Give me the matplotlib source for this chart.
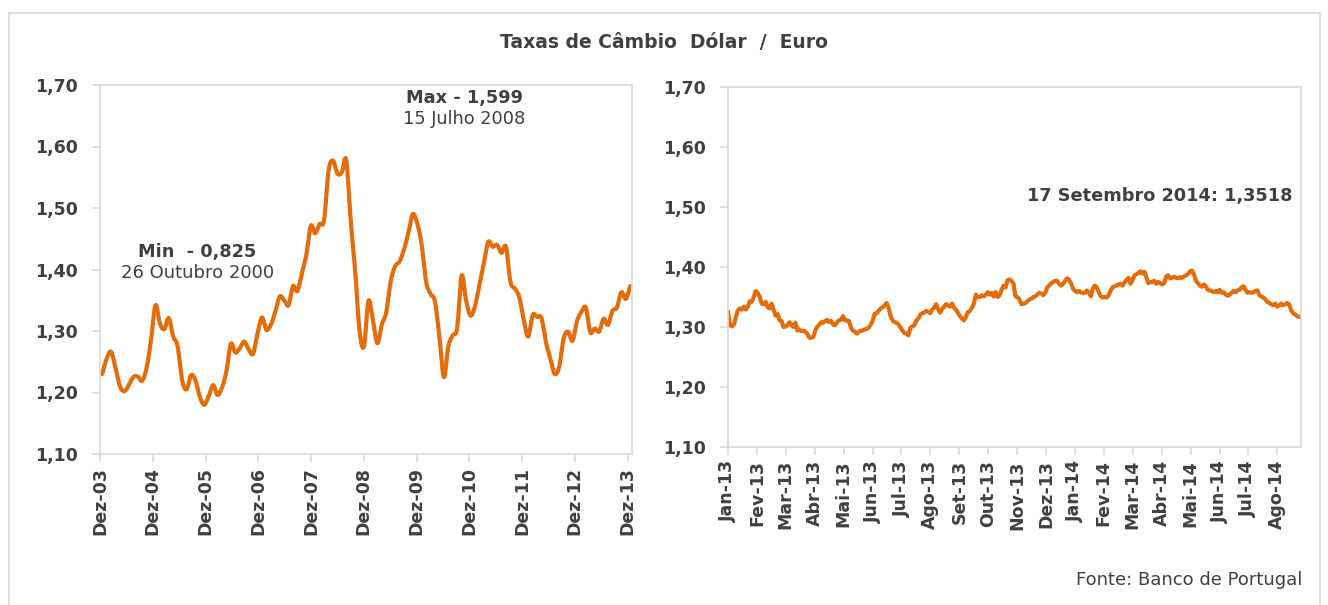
import numpy as np
import matplotlib
matplotlib.use("Agg")
import matplotlib.pyplot as plt
from matplotlib.patches import Rectangle
from matplotlib.ticker import FuncFormatter

# monthly rate, Dez-03 .. Nov-13
hist_values = [
    1.230, 1.255, 1.266, 1.240, 1.210, 1.202, 1.212, 1.225, 1.226, 1.219,
    1.240, 1.285, 1.342, 1.312, 1.303, 1.321, 1.291, 1.275, 1.220, 1.205,
    1.228, 1.220, 1.193, 1.180, 1.194, 1.212, 1.196, 1.208, 1.235, 1.279,
    1.265, 1.272, 1.283, 1.270, 1.263, 1.296, 1.322, 1.302, 1.310, 1.331,
    1.356, 1.350, 1.342, 1.373, 1.365, 1.394, 1.424, 1.471, 1.459, 1.474,
    1.480, 1.560, 1.577, 1.556, 1.558, 1.578, 1.480, 1.400, 1.300, 1.275,
    1.349, 1.318, 1.280, 1.310, 1.330, 1.380, 1.405, 1.413, 1.432, 1.460,
    1.490, 1.475, 1.440, 1.380, 1.360, 1.348, 1.290, 1.225, 1.275, 1.293,
    1.305, 1.390, 1.350, 1.325, 1.340, 1.375, 1.410, 1.445, 1.437, 1.440,
    1.427, 1.437, 1.380, 1.369, 1.355, 1.318, 1.291, 1.326, 1.323, 1.321,
    1.282, 1.255, 1.230, 1.242, 1.288, 1.299, 1.284, 1.316, 1.331, 1.338,
    1.298, 1.304, 1.299, 1.320, 1.310, 1.333, 1.338, 1.363, 1.352, 1.373,
]
hist_labels = ["Dez-03", "Dez-04", "Dez-05", "Dez-06", "Dez-07", "Dez-08",
               "Dez-09", "Dez-10", "Dez-11", "Dez-12", "Dez-13"]

# daily rate, Jan-13 .. 17 Set-14 (sampled evenly from the picture)
recent_values = [
    1.325, 1.303, 1.301, 1.304, 1.317, 1.328, 1.331, 1.329, 1.334, 1.329,
    1.334, 1.343, 1.342, 1.350, 1.360, 1.357, 1.350, 1.339, 1.338, 1.342,
    1.333, 1.331, 1.339, 1.329, 1.319, 1.322, 1.311, 1.310, 1.300, 1.301,
    1.303, 1.308, 1.303, 1.300, 1.307, 1.294, 1.296, 1.293, 1.294, 1.292,
    1.289, 1.282, 1.282, 1.283, 1.294, 1.300, 1.304, 1.308, 1.307, 1.310,
    1.312, 1.308, 1.310, 1.304, 1.303, 1.308, 1.311, 1.312, 1.318, 1.311,
    1.311, 1.310, 1.299, 1.294, 1.292, 1.289, 1.292, 1.294, 1.294, 1.296,
    1.297, 1.299, 1.304, 1.311, 1.322, 1.323, 1.327, 1.331, 1.333, 1.336,
    1.340, 1.332, 1.318, 1.311, 1.308, 1.307, 1.304, 1.299, 1.294, 1.290,
    1.289, 1.286, 1.299, 1.301, 1.303, 1.311, 1.314, 1.321, 1.323, 1.324,
    1.327, 1.325, 1.323, 1.329, 1.332, 1.338, 1.329, 1.324, 1.330, 1.334,
    1.338, 1.336, 1.334, 1.339, 1.332, 1.329, 1.323, 1.318, 1.314, 1.311,
    1.317, 1.325, 1.327, 1.332, 1.339, 1.354, 1.350, 1.350, 1.353, 1.351,
    1.354, 1.358, 1.354, 1.357, 1.351, 1.358, 1.350, 1.353, 1.362, 1.369,
    1.366, 1.378, 1.379, 1.377, 1.372, 1.351,
    1.350, 1.346, 1.338, 1.339, 1.340, 1.343, 1.346, 1.347, 1.350, 1.351,
    1.354, 1.357, 1.356, 1.353, 1.357, 1.366, 1.369, 1.373, 1.375, 1.377,
    1.377, 1.372, 1.369, 1.372, 1.377, 1.381, 1.379, 1.373, 1.364, 1.360,
    1.358, 1.360, 1.358, 1.356, 1.357, 1.361, 1.357, 1.351, 1.364, 1.369,
    1.366, 1.358, 1.351, 1.349, 1.350, 1.349, 1.353, 1.361, 1.366, 1.368,
    1.369, 1.371, 1.372, 1.369, 1.374, 1.379, 1.382, 1.372, 1.378, 1.386,
    1.388, 1.390, 1.393, 1.389, 1.392, 1.383, 1.373, 1.375, 1.375, 1.377,
    1.372, 1.375, 1.373, 1.371,
    1.373, 1.384, 1.386, 1.381, 1.382, 1.384, 1.382, 1.381, 1.383, 1.382,
    1.384, 1.386, 1.388, 1.393, 1.394, 1.388, 1.377, 1.373, 1.369, 1.367,
    1.371, 1.368, 1.362, 1.361, 1.360, 1.358, 1.360, 1.358, 1.362, 1.357,
    1.358, 1.354, 1.352, 1.354, 1.357, 1.360, 1.358, 1.361, 1.362, 1.366,
    1.368, 1.362, 1.357, 1.358, 1.357, 1.358, 1.360, 1.361, 1.353, 1.351,
    1.349, 1.346, 1.342, 1.340, 1.338, 1.336, 1.339, 1.334, 1.336, 1.339,
    1.336, 1.338, 1.340, 1.338, 1.328, 1.323, 1.321, 1.318, 1.317, 1.317,
]
recent_labels = ["Jan-13", "Fev-13", "Mar-13", "Abr-13", "Mai-13", "Jun-13",
                 "Jul-13", "Ago-13", "Set-13", "Out-13", "Nov-13", "Dez-13",
                 "Jan-14", "Fev-14", "Mar-14", "Abr-14", "Mai-14", "Jun-14",
                 "Jul-14", "Ago-14"]
n_days = 436        # business days in the second panel
days_per_tick = 22

ORANGE = "#E46C0A"
TEXT = "#404040"
FRAME = "#D9D9D9"


def smooth(x, y, steps=12):
    # Catmull-Rom curve through the points, like Excel's smoothed line
    x = np.asarray(x, float)
    y = np.asarray(y, float)
    px = np.concatenate([[2 * x[0] - x[1]], x, [2 * x[-1] - x[-2]]])
    py = np.concatenate([[2 * y[0] - y[1]], y, [2 * y[-1] - y[-2]]])
    t = np.linspace(0, 1, steps, endpoint=False)[:, None]
    out = []
    for p in (px, py):
        p0, p1, p2, p3 = p[:-3], p[1:-2], p[2:-1], p[3:]
        c = 0.5 * (2 * p1 + (-p0 + p2) * t + (2 * p0 - 5 * p1 + 4 * p2 - p3) * t ** 2
                   + (-p0 + 3 * p1 - 3 * p2 + p3) * t ** 3)
        out.append(np.append(c.T.ravel(), p[-2]))
    return out


def style_axes(ax):
    for s in ax.spines.values():
        s.set_color(FRAME)
        s.set_linewidth(1.2)
    ax.set_ylim(1.10, 1.70)
    ax.set_yticks(np.arange(1.10, 1.71, 0.10))
    ax.yaxis.set_major_formatter(FuncFormatter(lambda v, p: f"{v:.2f}".replace(".", ",")))
    ax.tick_params(axis="both", colors=FRAME, length=6, width=1.2, labelcolor=TEXT,
                   labelsize=12.5)
    ax.tick_params(axis="y", pad=10)
    for lab in ax.get_yticklabels() + ax.get_xticklabels():
        lab.set_fontweight("bold")


plt.rcParams["font.family"] = ["DejaVu Sans"]
fig = plt.figure(figsize=(13.28, 6.05), dpi=100)
fig.patches.append(Rectangle((9 / 1328, -0.02), 1311 / 1328, 1 - 13 / 605 + 0.02,
                             transform=fig.transFigure, fill=False,
                             edgecolor=FRAME, linewidth=1.2))

# left panel: 2003-2013
ax1 = fig.add_axes([100 / 1328, 1 - 454 / 605, 532 / 1328, 369 / 605])
hx = np.arange(len(hist_values))
sx, sy = smooth(hx, hist_values)
ax1.plot(sx, sy, color=ORANGE, lw=3.0, solid_capstyle="round")
ax1.set_xlim(-0.5, len(hist_values) - 0.6)
ax1.set_xticks(np.linspace(-0.5, 118.4, len(hist_labels)))
ax1.set_xticklabels(hist_labels, rotation=90)
style_axes(ax1)

ax1.text(0.685, 0.952, "Max - 1,599", transform=ax1.transAxes, ha="center",
         fontsize=12.8, fontweight="bold", color=TEXT)
ax1.text(0.685, 0.893, "15 Julho 2008", transform=ax1.transAxes, ha="center",
         fontsize=12.8, color=TEXT)
ax1.text(0.183, 0.535, "Min  - 0,825", transform=ax1.transAxes, ha="center",
         fontsize=12.8, fontweight="bold", color=TEXT)
ax1.text(0.183, 0.478, "26 Outubro 2000", transform=ax1.transAxes, ha="center",
         fontsize=13, color=TEXT)

# right panel: 2013-2014
ax2 = fig.add_axes([728 / 1328, 1 - 447 / 605, 573 / 1328, 360 / 605])
rx = np.linspace(0, n_days, len(recent_values))
ax2.plot(rx, recent_values, color=ORANGE, lw=3.0, solid_joinstyle="round")
ax2.set_xlim(0, n_days)
ax2.set_xticks(np.arange(len(recent_labels)) * days_per_tick)
ax2.set_xticklabels(recent_labels, rotation=90)
style_axes(ax2)
ax2.text(0.985, 0.683, "17 Setembro 2014: 1,3518", transform=ax2.transAxes,
         ha="right", fontsize=12.8, fontweight="bold", color=TEXT)

fig.text(0.5, 1 - 42 / 605, "Taxas de Câmbio  Dólar  /  Euro", ha="center", va="center",
         fontsize=13.5, fontweight="bold", color=TEXT)
fig.text(1302 / 1328, 1 - 580 / 605, "Fonte: Banco de Portugal", ha="right",
         va="center", fontsize=13, color=TEXT)

fig.savefig("out.png", dpi=100)
